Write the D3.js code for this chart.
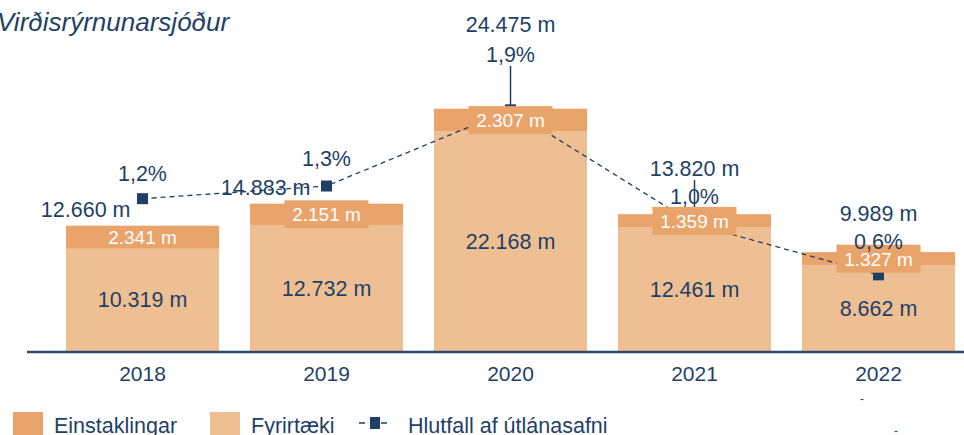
<!DOCTYPE html>
<html>
<head>
<meta charset="utf-8">
<script src="https://cdn.jsdelivr.net/npm/d3@7"></script>
<style>
    body { margin: 0; background: #fff; }
    svg { display: block; font-family: "Liberation Sans", Arial, sans-serif; }
</style>
</head>
<body>
<script>
const years = ["2018", "2019", "2020", "2021", "2022"];
const fyrirtaeki = [10319, 12732, 22168, 12461, 8662];
const einstaklingar = [2341, 2151, 2307, 1359, 1327];
const hlutfall = [1.2, 1.3, 1.9, 1.0, 0.6];
const seriesNames = ["Einstaklingar", "Fyrirtæki", "Hlutfall af útlánasafni"];

// where the total / percent labels sit relative to each marker (hand placed in the original)
const labelPlacement = [
    { anchor: "end", dx: -12, dyTotal: 11, dyPct: -25, leader: false },
    { anchor: "end", dx: -16, dyTotal: 1, dyPct: -28, leader: false },
    { anchor: "middle", dx: 0, dyTotal: -86, dyPct: -56, leader: true },
    { anchor: "middle", dx: 0, dyTotal: -56, dyPct: -28, leader: true },
    { anchor: "middle", dx: 0, dyTotal: -62, dyPct: -34, leader: false }
];

const width = 964;
const height = 435;
const baseY = 351;
const topY = 103.5;
const darkBlue = "#1f3f66";
const colEinst = "#e8a46b";
const colFyrir = "#efbf94";
const labelSize = "21.5px";

const locale = d3.formatLocale({ decimal: ",", thousands: ".", grouping: [3], currency: ["", ""] });
const fmtM = v => locale.format(",")(v) + " m";
const fmtPct = v => locale.format(".1f")(v) + "%";

const data = years.map((y, i) => ({
    year: y,
    fyrir: fyrirtaeki[i],
    einst: einstaklingar[i],
    total: fyrirtaeki[i] + einstaklingar[i],
    pct: hlutfall[i],
    lp: labelPlacement[i]
}));

const svg = d3.select("body").append("svg")
    .attr("width", width)
    .attr("height", height);

svg.append("text")
    .attr("x", -3)
    .attr("y", 31)
    .style("font-style", "italic")
    .style("font-size", "26px")
    .attr("fill", darkBlue)
    .text("Virðisrýrnunarsjóður");

const x = d3.scaleBand()
    .domain(years)
    .range([50.5, 970.5])
    .paddingInner(0.168)
    .paddingOuter(0.084);

const y = d3.scaleLinear().domain([0, 25000]).range([baseY, topY]);
const y2 = d3.scaleLinear().domain([0, 1.95]).range([baseY, topY]);

// stacked bars
const bars = svg.append("g");
bars.selectAll(".fyrir")
    .data(data).enter().append("rect")
    .attr("x", d => x(d.year))
    .attr("width", x.bandwidth())
    .attr("y", d => y(d.fyrir))
    .attr("height", d => y(0) - y(d.fyrir))
    .attr("fill", colFyrir);

bars.selectAll(".einst")
    .data(data).enter().append("rect")
    .attr("x", d => x(d.year))
    .attr("width", x.bandwidth())
    .attr("y", d => y(d.total))
    .attr("height", d => y(d.fyrir) - y(d.total))
    .attr("fill", colEinst);

// axis
const xAxis = d3.axisBottom(x).tickSize(0).tickPadding(15);
const axisG = svg.append("g")
    .attr("transform", "translate(0," + baseY + ")")
    .call(xAxis);
axisG.select(".domain").remove();
axisG.selectAll("text")
    .style("font-size", "21px")
    .attr("fill", darkBlue);
svg.append("line")
    .attr("x1", 27).attr("x2", width)
    .attr("y1", baseY + 1).attr("y2", baseY + 1)
    .attr("stroke", "#2c4a6e")
    .attr("stroke-width", 2.5);

// labels inside lower segment
svg.selectAll(".fyrirLabel")
    .data(data).enter().append("text")
    .attr("x", d => x(d.year) + x.bandwidth() / 2)
    .attr("y", d => (y(0) + y(d.fyrir)) / 2)
    .attr("dy", "0.35em")
    .attr("text-anchor", "middle")
    .style("font-size", labelSize)
    .attr("fill", darkBlue)
    .text(d => fmtM(d.fyrir));

// dashed line + markers
const cx = d => x(d.year) + x.bandwidth() / 2;
const line = d3.line().x(cx).y(d => y2(d.pct));

svg.selectAll(".leader")
    .data(data.filter(d => d.lp.leader)).enter().append("line")
    .attr("x1", cx).attr("x2", cx)
    .attr("y1", d => y2(d.pct) - 44)
    .attr("y2", d => y2(d.pct))
    .attr("stroke", darkBlue)
    .attr("stroke-width", 1.5);

svg.append("path")
    .datum(data)
    .attr("d", line)
    .attr("fill", "none")
    .attr("stroke", darkBlue)
    .attr("stroke-width", 1.3)
    .attr("stroke-dasharray", "5,4");

svg.selectAll(".marker")
    .data(data).enter().append("rect")
    .attr("x", d => cx(d) - 5.5)
    .attr("y", d => y2(d.pct) - 5.5)
    .attr("width", 11)
    .attr("height", 11)
    .attr("fill", darkBlue);

// labels for upper segment, boxed when the segment is thin
const einstLab = svg.selectAll(".einstLabel")
    .data(data).enter().append("g")
    .attr("transform", d => "translate(" + cx(d) + "," + ((y(d.fyrir) + y(d.total)) / 2) + ")");
einstLab.append("rect")
    .attr("x", -42).attr("y", -14)
    .attr("width", 84).attr("height", 28)
    .attr("fill", d => (y(d.fyrir) - y(d.total)) < 23 ? colEinst : "none");
einstLab.append("text")
    .attr("text-anchor", "middle")
    .attr("dy", "0.36em")
    .style("font-size", "19px")
    .attr("fill", "#fff")
    .text(d => fmtM(d.einst));

// totals and percentage labels
svg.selectAll(".totalLabel")
    .data(data).enter().append("text")
    .attr("x", d => cx(d) + d.lp.dx)
    .attr("y", d => y2(d.pct) + d.lp.dyTotal)
    .attr("dy", "0.36em")
    .attr("text-anchor", d => d.lp.anchor)
    .style("font-size", labelSize)
    .attr("fill", darkBlue)
    .text(d => fmtM(d.total));

svg.selectAll(".pctLabel")
    .data(data).enter().append("text")
    .attr("x", cx)
    .attr("y", d => y2(d.pct) + d.lp.dyPct)
    .attr("dy", "0.36em")
    .attr("text-anchor", "middle")
    .style("font-size", labelSize)
    .attr("fill", darkBlue)
    .text(d => fmtPct(d.pct));

// stray dashes left in the original
svg.append("text").attr("x", 862).attr("y", 403).attr("text-anchor", "middle")
    .style("font-size", "12px").attr("fill", darkBlue).text("-");
svg.append("text").attr("x", 896).attr("y", 435).attr("text-anchor", "middle")
    .style("font-size", "12px").attr("fill", darkBlue).text("-");

// legend
const legend = svg.append("g").attr("transform", "translate(0,425)");
const legendItems = [
    { name: seriesNames[0], x: 13, color: colEinst },
    { name: seriesNames[1], x: 210, color: colFyrir }
];
legendItems.forEach(it => {
    legend.append("rect")
        .attr("x", it.x).attr("y", -13)
        .attr("width", 30).attr("height", 26)
        .attr("fill", it.color);
    legend.append("text")
        .attr("x", it.x + 41).attr("y", 0)
        .attr("dy", "0.36em")
        .style("font-size", labelSize)
        .attr("fill", darkBlue)
        .text(it.name);
});
legend.append("line")
    .attr("x1", 359).attr("x2", 391)
    .attr("y1", -2).attr("y2", -2)
    .attr("stroke", darkBlue)
    .attr("stroke-width", 1.3)
    .attr("stroke-dasharray", "6,5");
legend.append("rect")
    .attr("x", 370).attr("y", -8)
    .attr("width", 10).attr("height", 12)
    .attr("fill", darkBlue);
legend.append("text")
    .attr("x", 408).attr("y", 0)
    .attr("dy", "0.36em")
    .style("font-size", labelSize)
    .attr("fill", darkBlue)
    .text(seriesNames[2]);
</script>
</body>
</html>
